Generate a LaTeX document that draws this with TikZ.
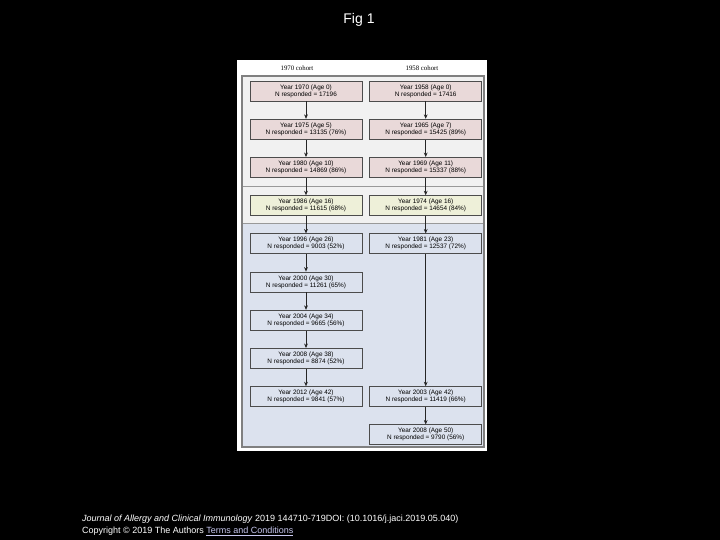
\documentclass[tikz,border=0pt]{standalone}
\usepackage{fontspec}
\setmainfont{Liberation Sans}
\newfontfamily\headfont{Liberation Serif}
\usetikzlibrary{arrows.meta,positioning}

\definecolor{bandgray}{HTML}{F1F1F1}
\definecolor{bandblue}{HTML}{DCE2EE}
\definecolor{boxpink}{HTML}{E9D9D9}
\definecolor{boxgreen}{HTML}{EEF0D9}
\definecolor{linklav}{HTML}{C8C8F0}

\begin{document}
\begin{tikzpicture}[
  x=1pt, y=-1pt,
  node distance=17.5pt and 7pt,
  every node/.style={font=\fontsize{6.4}{7}\selectfont},
  sweep/.style={
    draw=black!70,
    line width=0.7pt,
    align=center,
    minimum width=112pt,
    minimum height=20pt,
    inner sep=1pt,
    fill=#1
  },
  cohort/.style={font=\headfont\fontsize{6.8}{8}\selectfont},
  arrow/.style={-{Stealth[length=4.5pt,width=3.8pt]}, line width=0.8pt, draw=black!85}
]
\useasboundingbox (0,0) rectangle (720,540);
\fill[black] (0,0) rectangle (720,540);

% panel and bands
\fill[white] (237,60) rectangle (487,451);
\fill[bandgray] (242,76) rectangle (484,223);
\fill[bandblue] (242,223) rectangle (484,447);
\draw[black!40, line width=0.5pt] (242,186) -- (484,186) (242,223) -- (484,223);
\draw[black!50, line width=1.2pt] (242,76) rectangle (484,447);

\node[cohort] (h70) at (297,68) {1970 cohort};
\node[cohort] (h58) at (422,68) {1958 cohort};

% 1970 cohort
\node[sweep=boxpink] (l1) at (306,91) {Year 1970 (Age 0)\\N responded = 17196};
\node[sweep=boxpink, below=of l1] (l2) {Year 1975 (Age 5)\\N responded = 13135 (76\%)};
\node[sweep=boxpink, below=of l2] (l3) {Year 1980 (Age 10)\\N responded = 14869 (86\%)};
\node[sweep=boxgreen, below=of l3] (l4) {Year 1986 (Age 16)\\N responded = 11615 (68\%)};
\node[sweep=bandblue, below=of l4] (l5) {Year 1996 (Age 26)\\N responded = 9003 (52\%)};
\node[sweep=bandblue, below=of l5] (l6) {Year 2000 (Age 30)\\N responded = 11261 (65\%)};
\node[sweep=bandblue, below=of l6] (l7) {Year 2004 (Age 34)\\N responded = 9665 (56\%)};
\node[sweep=bandblue, below=of l7] (l8) {Year 2008 (Age 38)\\N responded = 8874 (52\%)};
\node[sweep=bandblue, below=of l8] (l9) {Year 2012 (Age 42)\\N responded = 9841 (57\%)};

% 1958 cohort
\node[sweep=boxpink, right=of l1] (r1) {Year 1958 (Age 0)\\N responded = 17416};
\node[sweep=boxpink, below=of r1] (r2) {Year 1965 (Age 7)\\N responded = 15425 (89\%)};
\node[sweep=boxpink, below=of r2] (r3) {Year 1969 (Age 11)\\N responded = 15337 (88\%)};
\node[sweep=boxgreen, below=of r3] (r4) {Year 1974 (Age 16)\\N responded = 14654 (84\%)};
\node[sweep=bandblue, below=of r4] (r5) {Year 1981 (Age 23)\\N responded = 12537 (72\%)};
\node[sweep=bandblue, right=of l9] (r6) {Year 2003 (Age 42)\\N responded = 11419 (66\%)};
\node[sweep=bandblue, below=of r6] (r7) {Year 2008 (Age 50)\\N responded = 9790 (56\%)};

\foreach \a/\b in {l1/l2,l2/l3,l3/l4,l4/l5,l5/l6,l6/l7,l7/l8,l8/l9,r1/r2,r2/r3,r3/r4,r4/r5,r5/r6,r6/r7}
  \draw[arrow] (\a) -- (\b);

% slide text
\node[text=white, font=\fontsize{14}{16}\selectfont] (title) at (359,20) {Fig 1};
\node[anchor=west, text=white, font=\fontsize{9}{10}\selectfont, inner sep=0pt] (journal) at (82,519)
  {\textit{Journal of Allergy and Clinical Immunology} 2019 144710-719DOI: (10.1016/j.jaci.2019.05.040)};
\node[anchor=west, text=white, font=\fontsize{9}{10}\selectfont, inner sep=0pt] (rights) at (82,531)
  {Copyright © 2019 The Authors \textcolor{linklav}{\underline{Terms and Conditions}}};
\end{tikzpicture}
\end{document}
